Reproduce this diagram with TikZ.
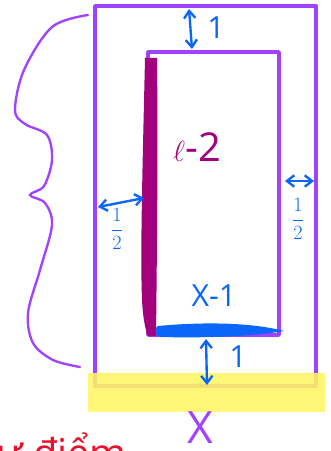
\documentclass[tikz,border=0pt]{standalone}
\usepackage{amsmath}
\usepackage{fontspec}
\setmainfont{Open Sans}
\usepackage{tikz}
\usetikzlibrary{arrows.meta}
\definecolor{SketchPurple}{HTML}{A042FF}
\definecolor{SketchPlum}{HTML}{A3007E}
\definecolor{SketchBlue}{HTML}{0A66F8}
\definecolor{SketchYellow}{HTML}{FFF464}
\definecolor{SketchRed}{HTML}{E8102A}
\tikzset{
  wall/.style={draw=SketchPurple,line width=3.3pt,line join=round},
  innerwall/.style={wall,line width=3pt},
  dimarrow/.style={{Straight Barb[length=2.2mm,width=3.4mm]}-{Straight Barb[length=2.2mm,width=3.4mm]},
    line width=2pt,SketchBlue,line cap=round},
  dimlabel/.style={text=SketchBlue,font=\fontsize{26}{28}\selectfont,inner sep=0pt},
  fraclabel/.style={dimlabel,font=\fontsize{17}{20}\selectfont},
  plumlabel/.style={text=SketchPlum,font=\fontsize{34}{38}\selectfont,inner sep=0pt},
  purplelabel/.style={text=SketchPurple,font=\fontsize{38}{42}\selectfont,inner sep=0pt},
  redlabel/.style={text=SketchRed,font=\fontsize{34}{38}\selectfont,inner sep=0pt},
  brace/.style={draw=SketchPurple,line width=2pt,line cap=round}
}
\begin{document}
\begin{tikzpicture}[x=0.03cm,y=-0.03cm]
  \clip (0,0) rectangle (330,451);
  \fill[white] (0,0) rectangle (330,451);

  % walls
  \draw[wall] (95,6) rectangle (316,386);
  \draw[innerwall] (148,52) rectangle (279,335);

  % strips along the inner sides
  \fill[SketchPlum] (145,58) .. controls (143,150) and (140,250) .. (142,300)
    .. controls (143,320) and (146,332) .. (148,336) -- (156,336)
    .. controls (157,250) and (158,150) .. (157,58) -- cycle;
  \fill[SketchBlue] (158,326) .. controls (200,322) and (250,322) .. (284,331)
    .. controls (250,337) and (200,338) .. (160,337)
    .. controls (154,336) and (154,327) .. cycle;

  % highlight under the bottom wall
  \fill[SketchYellow,opacity=0.88] (88,373) rectangle (325,412);

  % brace
  \draw[brace] plot[smooth,tension=0.55] coordinates {(88,15) (52,27) (24,70) (15,110)
    (25,124) (47,135) (52,160) (44,186) (30,195) (45,203) (52,225) (40,270)
    (28,313) (33,343) (53,360) (80,367)};

  % dimensions
  \coordinate (topOuter) at (189,9);
  \coordinate (topInner) at (192,49);
  \coordinate (botInner) at (206,339);
  \coordinate (botOuter) at (207,385);
  \coordinate (leftOuter) at (98,207);
  \coordinate (leftInner) at (144,198);
  \coordinate (rightInner) at (285,181);
  \coordinate (rightOuter) at (314,181);
  \draw[dimarrow] (topOuter) -- (topInner);
  \draw[dimarrow] (botInner) -- (botOuter);
  \draw[dimarrow] (leftOuter) -- (leftInner);
  \draw[dimarrow] (rightInner) -- (rightOuter);

  \node[dimlabel] (oneTop) at (216,28) {1};
  \node[dimlabel] (oneBot) at (238,357) {1};
  \node[fraclabel] (halfLeft) at (117,229) {$\dfrac{1}{2}$};
  \node[fraclabel] (halfRight) at (298,219) {$\dfrac{1}{2}$};
  \node[dimlabel] (xMinusOne) at (214,296) {X-1};
  \node[plumlabel] (lenLabel) at (197,147) {$\ell$-2};
  \node[purplelabel] (widthLabel) at (200,428) {X};
  \node[redlabel,anchor=north west] (noteRed) at (-4,433) {ư điểm};
\end{tikzpicture}
\end{document}
